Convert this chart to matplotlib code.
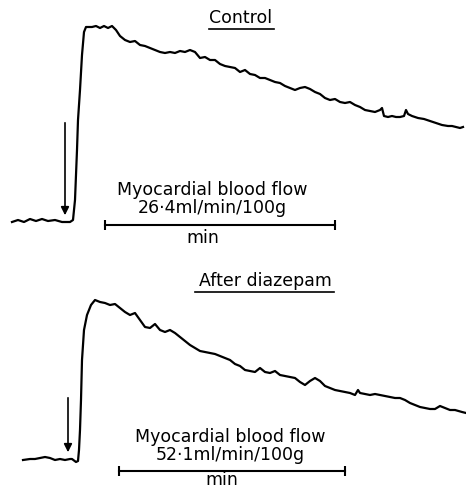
import matplotlib.pyplot as plt

# trace points read from the recording (x across, y down the page)
control_x = [12, 18, 24, 30, 36, 42, 48, 55, 62, 70, 73, 75, 77, 78, 80, 82, 84, 86,
             92, 96, 100, 104, 108, 112, 116, 120, 125, 130, 135, 140, 145, 150, 155,
             160, 165, 170, 175, 180, 185, 190, 195, 200, 205, 210, 215, 220, 225, 230,
             235, 240, 245, 250, 255, 260, 265, 270, 275, 280, 285, 290, 295, 300, 305,
             310, 315, 320, 325, 330, 335, 340, 345, 350, 355, 360, 365, 370, 375, 380,
             382, 384, 388, 392, 396, 400, 404, 406, 408, 412, 418, 424, 430, 436, 442,
             448, 452, 456, 460, 463]
control_y = [222, 220, 222, 219, 221, 219, 221, 220, 222, 222, 220, 200, 150, 120, 90, 55, 32, 27,
             27, 26, 28, 26, 28, 26, 30, 36, 40, 42, 41, 45, 46, 48, 50,
             52, 53, 52, 53, 51, 52, 50, 52, 58, 57, 60, 60, 64, 66, 67,
             68, 72, 70, 74, 75, 78, 78, 80, 82, 83, 86, 88, 90, 88, 87,
             89, 92, 94, 98, 100, 99, 102, 103, 102, 105, 107, 110, 111, 112, 110,
             108, 116, 117, 116, 117, 117, 116, 110, 114, 116, 118, 119, 121, 123, 125,
             126, 126, 127, 128, 127]

diazepam_x = [23, 30, 35, 40, 45, 50, 55, 60, 65, 70, 72, 76, 78, 79, 80, 81, 82, 84, 87,
              91, 95, 100, 105, 110, 115, 120, 125, 130, 135, 140, 145, 150, 155, 160,
              165, 170, 175, 180, 185, 190, 195, 200, 205, 210, 215, 220, 225, 230, 235,
              240, 245, 250, 255, 260, 265, 270, 275, 280, 285, 290, 295, 300, 305, 310,
              315, 320, 325, 330, 335, 340, 345, 350, 355, 358, 360, 365, 370, 375, 380,
              385, 390, 395, 400, 405, 410, 415, 420, 425, 430, 435, 440, 445, 450, 455,
              462, 466]
diazepam_y = [460, 459, 459, 458, 457, 458, 460, 459, 460, 459, 459, 462, 461, 450, 430, 400, 360, 330, 315,
              305, 300, 302, 303, 305, 304, 308, 312, 315, 313, 320, 327, 328, 324, 330,
              332, 330, 333, 337, 341, 345, 348, 351, 352, 353, 354, 356, 358, 360, 364,
              366, 370, 371, 372, 368, 372, 373, 371, 375, 376, 377, 378, 382, 385, 381,
              378, 381, 386, 388, 390, 391, 392, 393, 395, 390, 393, 394, 395, 394, 395,
              396, 397, 398, 398, 400, 403, 405, 407, 408, 409, 409, 406, 408, 410, 410,
              412, 413]

titles = ["Control", "After diazepam"]
flows = ["26·4ml/min/100g", "52·1ml/min/100g"]

fig = plt.figure(figsize=(4.66, 4.88), dpi=100)
ax = fig.add_axes([0, 0, 1, 1])
ax.set_xlim(0, 466)
ax.set_ylim(488, 0)
ax.axis('off')

ax.plot(control_x, control_y, color='black', lw=1.6)
ax.plot(diazepam_x, diazepam_y, color='black', lw=1.6)

font = dict(family='DejaVu Sans', color='black', ha='center', va='center', fontsize=12.5)

# panel 1
ax.text(241, 18, titles[0], **font)
ax.plot([209, 274], [29, 29], color='black', lw=1.2)
ax.annotate('', xy=(65, 218), xytext=(65, 120),
            arrowprops=dict(arrowstyle='-|>', color='black', lw=1.2, mutation_scale=12))
ax.text(212, 199, "Myocardial blood flow\n" + flows[0], linespacing=0.95, **font)
ax.plot([105, 335], [225, 225], color='black', lw=1.5, marker='|', markersize=7, mew=1.5)
ax.text(203, 238, "min", **font)

# panel 2
ax.text(265, 281, titles[1], **font)
ax.plot([195, 334], [292, 292], color='black', lw=1.2)
ax.annotate('', xy=(68, 455), xytext=(68, 395),
            arrowprops=dict(arrowstyle='-|>', color='black', lw=1.2, mutation_scale=12))
ax.text(230, 446, "Myocardial blood flow\n" + flows[1], linespacing=0.95, **font)
ax.plot([119, 345], [471, 471], color='black', lw=1.5, marker='|', markersize=7, mew=1.5)
ax.text(222, 480, "min", **font)

fig.savefig("out.png", dpi=100)
